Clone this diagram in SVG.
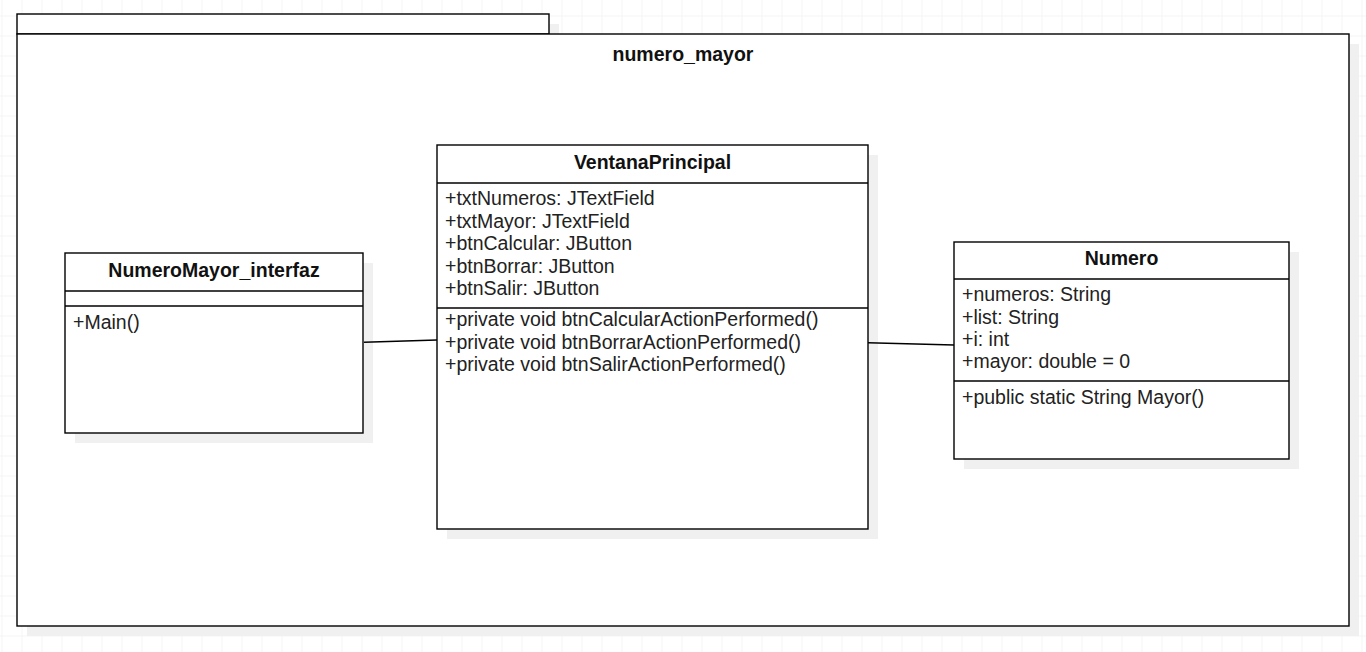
<svg xmlns="http://www.w3.org/2000/svg" width="1366" height="652" viewBox="0 0 1366 652">
<defs>
<pattern id="grid" x="1.5" y="15.5" width="20" height="20" patternUnits="userSpaceOnUse">
<path d="M0 0H20M0 0V20" fill="none" stroke="#ececec" stroke-width="1"/>
</pattern>
<style>
.box{fill:#fff;stroke:#000;stroke-width:1.4}
.sh{fill:#f0f0f0;stroke:none}
.ln{stroke:#000;stroke-width:1.4;fill:none}
.t{font-family:"Liberation Sans",Arial,sans-serif;font-size:19.5px;fill:#222}
.b{font-family:"Liberation Sans",Arial,sans-serif;font-size:19.5px;font-weight:bold;fill:#111;text-anchor:middle}
</style>
</defs>
<rect width="1366" height="652" fill="#fff"/>
<rect width="1366" height="652" fill="url(#grid)"/>
<g id="package">
<rect class="sh" x="27" y="24" width="532" height="20"/>
<rect class="sh" x="27" y="44" width="1332" height="592"/>
<rect class="box" x="17" y="14" width="532" height="20"/>
<rect class="box" x="17" y="34" width="1332" height="592"/>
<text class="b" x="683" y="61">numero_mayor</text>
</g>
<g id="NumeroMayor_interfaz">
<rect class="sh" x="75" y="263" width="298" height="180"/>
<rect class="box" x="65" y="253" width="298" height="180"/>
<line class="ln" x1="65" y1="291" x2="363" y2="291"/>
<line class="ln" x1="65" y1="306" x2="363" y2="306"/>
<text class="b" x="214" y="277">NumeroMayor_interfaz</text>
<text class="t" x="73" y="329">+Main()</text>
</g>
<g id="VentanaPrincipal">
<rect class="sh" x="447" y="155" width="431" height="384"/>
<rect class="box" x="437" y="145" width="431" height="384"/>
<line class="ln" x1="437" y1="183" x2="868" y2="183"/>
<line class="ln" x1="437" y1="308" x2="868" y2="308"/>
<text class="b" x="652.5" y="169">VentanaPrincipal</text>
<text class="t" x="445" y="205">+txtNumeros: JTextField</text>
<text class="t" x="445" y="227.5">+txtMayor: JTextField</text>
<text class="t" x="445" y="250">+btnCalcular: JButton</text>
<text class="t" x="445" y="272.5">+btnBorrar: JButton</text>
<text class="t" x="445" y="295">+btnSalir: JButton</text>
<text class="t" x="445" y="326">+private void btnCalcularActionPerformed()</text>
<text class="t" x="445" y="348.5">+private void btnBorrarActionPerformed()</text>
<text class="t" x="445" y="371">+private void btnSalirActionPerformed()</text>
</g>
<g id="Numero">
<rect class="sh" x="964" y="252" width="335" height="217"/>
<rect class="box" x="954" y="242" width="335" height="217"/>
<line class="ln" x1="954" y1="279" x2="1289" y2="279"/>
<line class="ln" x1="954" y1="381" x2="1289" y2="381"/>
<text class="b" x="1121.5" y="265">Numero</text>
<text class="t" x="962" y="301">+numeros: String</text>
<text class="t" x="962" y="323.5">+list: String</text>
<text class="t" x="962" y="345.5">+i: int</text>
<text class="t" x="962" y="368">+mayor: double = 0</text>
<text class="t" x="962" y="403.5">+public static String Mayor()</text>
</g>
<g id="connectors">
<line class="ln" x1="364" y1="342.3" x2="437" y2="340"/>
<line class="ln" x1="868" y1="342.7" x2="954" y2="345"/>
</g>
</svg>
